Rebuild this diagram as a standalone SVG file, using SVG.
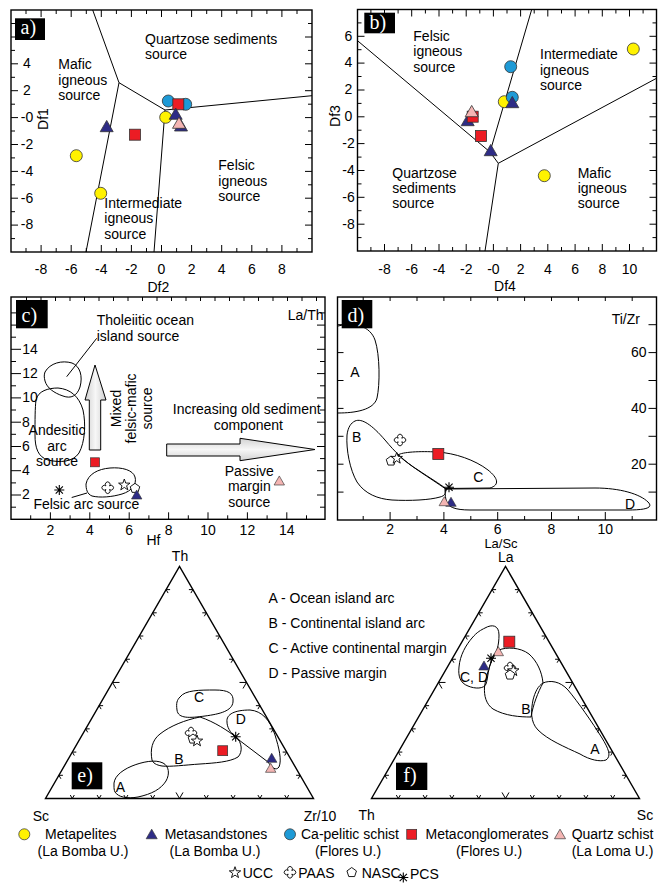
<svg xmlns="http://www.w3.org/2000/svg" width="670" height="886" viewBox="0 0 670 886">
<style>
text{font-family:"Liberation Sans",Arial,Helvetica,sans-serif;font-size:14px;fill:#000}
.s12{font-size:12px}
.s13{font-size:13px}
.m{text-anchor:middle}
.e{text-anchor:end}
.lb{font-family:"Liberation Serif","Times New Roman",serif;font-size:20px;fill:#fff}
.fr{fill:none;stroke:#000;stroke-width:1.4}
.tk{fill:none;stroke:#000;stroke-width:1}
.ln{fill:none;stroke:#000;stroke-width:1}
.y{fill:#fff200;stroke:#333;stroke-width:.8}
.b{fill:#1e9ad6;stroke:#333;stroke-width:.8}
.n{fill:#2e2c86;stroke:#333;stroke-width:.8}
.r{fill:#ec1c24;stroke:#333;stroke-width:.8}
.p{fill:#f4b5b3;stroke:#333;stroke-width:.8}
.o{fill:#fff;stroke:#000;stroke-width:.9}
.a{fill:none;stroke:#000;stroke-width:1.1}
.bx{fill:#000}
</style>
<defs>
<circle id="ci" r="6"/>
<path id="tr" d="M0,-6.3 L6.5,5 L-6.5,5 Z"/>
<rect id="sq" x="-5.5" y="-5.5" width="11" height="11"/>
<path id="st" d="M0,-6 L1.41,-1.94 L5.71,-1.85 L2.28,0.74 L3.53,4.85 L0,2.4 L-3.53,4.85 L-2.28,0.74 L-5.71,-1.85 L-1.41,-1.94 Z"/>
<path id="px" d="M-1.8,-1.8 A2.4,2.4 0 1 1 1.8,-1.8 A2.4,2.4 0 1 1 1.8,1.8 A2.4,2.4 0 1 1 -1.8,1.8 A2.4,2.4 0 1 1 -1.8,-1.8 Z"/>
<path id="pn" d="M0,-5 L4.76,-1.55 L2.94,4.05 L-2.94,4.05 L-4.76,-1.55 Z"/>
<path id="as" d="M-5,0 H5 M0,-5 V5 M-3.6,-3.6 L3.6,3.6 M-3.6,3.6 L3.6,-3.6"/>
<linearGradient id="gv" x1="0" y1="0" x2="1" y2="0">
<stop offset="0" stop-color="#cfcfcf"/><stop offset=".5" stop-color="#f7f7f7"/><stop offset="1" stop-color="#cfcfcf"/>
</linearGradient>
<linearGradient id="gh" x1="0" y1="0" x2="0" y2="1">
<stop offset="0" stop-color="#d2d2d2"/><stop offset=".5" stop-color="#f7f7f7"/><stop offset="1" stop-color="#d2d2d2"/>
</linearGradient>
<g id="tt">
<path class="fr" d="M0,0 H268 L134,-232.1 Z"/>
<path class="tk" d="M24.8,-3.46 l2,3.46 2,-3.46 M51.6,-3.46 l2,3.46 2,-3.46 M78.4,-3.46 l2,3.46 2,-3.46 M105.2,-3.46 l2,3.46 2,-3.46 M130.5,-6.06 l3.5,6.06 3.5,-6.06 M158.8,-3.46 l2,3.46 2,-3.46 M185.6,-3.46 l2,3.46 2,-3.46 M212.4,-3.46 l2,3.46 2,-3.46 M239.2,-3.46 l2,3.46 2,-3.46
M17.4,-23.21 h-4 l2,3.46 M30.8,-46.42 h-4 l2,3.46 M44.2,-69.63 h-4 l2,3.46 M57.6,-92.84 h-4 l2,3.46 M74,-116.05 h-7 l3.5,6.06 M84.4,-139.26 h-4 l2,3.46 M97.8,-162.47 h-4 l2,3.46 M111.2,-185.68 h-4 l2,3.46 M124.6,-208.89 h-4 l2,3.46
M250.6,-23.21 h4 l-2,3.46 M237.2,-46.42 h4 l-2,3.46 M223.8,-69.63 h4 l-2,3.46 M210.4,-92.84 h4 l-2,3.46 M194,-116.05 h7 l-3.5,6.06 M183.6,-139.26 h4 l-2,3.46 M170.2,-162.47 h4 l-2,3.46 M156.8,-185.68 h4 l-2,3.46 M143.4,-208.89 h4 l-2,3.46"/>
</g>
</defs>
<rect width="670" height="886" fill="#fff"/>

<!-- Panel a -->
<g id="panel-a">
<rect class="fr" x="11" y="10" width="301" height="242"/>
<path class="tk" d="M41.1,252v-7M71.2,252v-7M101.3,252v-7M131.4,252v-7M161.5,252v-7M191.6,252v-7M221.7,252v-7M251.8,252v-7M281.9,252v-7
M26,252v-4M56.2,252v-4M86.3,252v-4M116.4,252v-4M146.5,252v-4M176.6,252v-4M206.7,252v-4M236.8,252v-4M266.9,252v-4M297,252v-4
M41.1,10v7M71.2,10v7M101.3,10v7M131.4,10v7M161.5,10v7M191.6,10v7M221.7,10v7M251.8,10v7M281.9,10v7
M26,10v4M56.2,10v4M86.3,10v4M116.4,10v4M146.5,10v4M176.6,10v4M206.7,10v4M236.8,10v4M266.9,10v4M297,10v4
M11,37h7M11,63.8h7M11,90.7h7M11,117.6h7M11,144.5h7M11,171.4h7M11,198.2h7M11,225.1h7
M11,23.5h4M11,50.4h4M11,77.3h4M11,104.2h4M11,131h4M11,157.9h4M11,184.8h4M11,211.7h4M11,238.6h4
M312,37h-7M312,63.8h-7M312,90.7h-7M312,117.6h-7M312,144.5h-7M312,171.4h-7M312,198.2h-7M312,225.1h-7
M312,23.5h-4M312,50.4h-4M312,77.3h-4M312,104.2h-4M312,131h-4M312,157.9h-4M312,184.8h-4M312,211.7h-4M312,238.6h-4"/>
<g class="s12 m">
<text x="27" y="68.1">4</text><text x="27" y="95">2</text><text x="27" y="121.9">-0</text><text x="27" y="148.8">-2</text><text x="27" y="175.7">-4</text><text x="27" y="202.5">-6</text><text x="27" y="229.4">-8</text>
<text x="41.1" y="274.3">-8</text><text x="71.2" y="274.3">-6</text><text x="101.3" y="274.3">-4</text><text x="131.4" y="274.3">-2</text><text x="161.5" y="274.3">0</text><text x="191.6" y="274.3">2</text><text x="221.7" y="274.3">4</text><text x="251.8" y="274.3">6</text><text x="281.9" y="274.3">8</text>
<text x="158.3" y="291.5">Df2</text>
<text transform="translate(48,119) rotate(-90)">Df1</text>
</g>
<g class="ln-group">
<path class="ln" d="M92.7,10 L119,82.7 L86,252 M119,82.7 L165,110 L154,252 M165,110 L312,95.7"/>
</g>
<text x="145" y="43.5">Quartzose sediments</text><text x="145" y="58.5">source</text>
<text x="58.3" y="69">Mafic</text><text x="58.3" y="84.5">igneous</text><text x="58.3" y="100">source</text>
<text x="218.3" y="170">Felsic</text><text x="218.3" y="185.5">igneous</text><text x="218.3" y="201">source</text>
<text x="104.3" y="207.5">Intermediate</text><text x="104.3" y="223">igneous</text><text x="104.3" y="238.5">source</text>
<use href="#ci" class="y" x="76.3" y="155.7"/><use href="#ci" class="y" x="100.7" y="193.3"/><use href="#ci" class="y" x="165.7" y="117.3"/>
<use href="#ci" class="b" x="168.3" y="101"/><use href="#ci" class="b" x="185.7" y="104.3"/>
<use href="#sq" class="r" x="135" y="134.7"/><use href="#sq" class="r" x="178.3" y="104.3"/>
<use href="#tr" class="n" x="106.7" y="126.7"/><use href="#tr" class="n" x="175.7" y="114.3"/><use href="#tr" class="n" x="181" y="126"/>
<use href="#tr" class="p" x="179" y="123.3"/>
<rect class="bx" x="15" y="18.3" width="30" height="21.7"/><text class="lb" x="20.5" y="33.5">a)</text>
</g>

<!-- Panel b -->
<g id="panel-b">
<rect class="fr" x="357.5" y="9.5" width="299" height="241.5"/>
<path class="tk" d="M384.5,251v-7M411.7,251v-7M439,251v-7M466.2,251v-7M493.4,251v-7M520.6,251v-7M547.8,251v-7M575.1,251v-7M602.3,251v-7M629.5,251v-7
M370.9,251v-4M398.1,251v-4M425.4,251v-4M452.6,251v-4M479.8,251v-4M507,251v-4M534.2,251v-4M561.5,251v-4M588.7,251v-4M615.9,251v-4M643.1,251v-4
M384.5,9.5v7M411.7,9.5v7M439,9.5v7M466.2,9.5v7M493.4,9.5v7M520.6,9.5v7M547.8,9.5v7M575.1,9.5v7M602.3,9.5v7M629.5,9.5v7
M370.9,9.5v4M398.1,9.5v4M425.4,9.5v4M452.6,9.5v4M479.8,9.5v4M507,9.5v4M534.2,9.5v4M561.5,9.5v4M588.7,9.5v4M615.9,9.5v4M643.1,9.5v4
M357.5,36.3h7M357.5,63.1h7M357.5,90h7M357.5,116.8h7M357.5,143.6h7M357.5,170.5h7M357.5,197.3h7M357.5,224.2h7
M357.5,22.9h4M357.5,49.7h4M357.5,76.5h4M357.5,103.4h4M357.5,130.2h4M357.5,157.1h4M357.5,183.9h4M357.5,210.7h4M357.5,237.6h4
M656.5,36.3h-7M656.5,63.1h-7M656.5,90h-7M656.5,116.8h-7M656.5,143.6h-7M656.5,170.5h-7M656.5,197.3h-7M656.5,224.2h-7
M656.5,22.9h-4M656.5,49.7h-4M656.5,76.5h-4M656.5,103.4h-4M656.5,130.2h-4M656.5,157.1h-4M656.5,183.9h-4M656.5,210.7h-4M656.5,237.6h-4"/>
<g class="s12 m">
<text x="348.5" y="40.6">6</text><text x="348.5" y="67.4">4</text><text x="348.5" y="94.3">2</text><text x="348.5" y="121.1">0</text><text x="348.5" y="147.9">-2</text><text x="348.5" y="174.8">-4</text><text x="348.5" y="201.6">-6</text><text x="348.5" y="228.5">-8</text>
<text x="384.5" y="274">-8</text><text x="411.7" y="274">-6</text><text x="439" y="274">-4</text><text x="466.2" y="274">-2</text><text x="493.4" y="274">-0</text><text x="520.6" y="274">2</text><text x="547.8" y="274">4</text><text x="575.1" y="274">6</text><text x="602.3" y="274">8</text><text x="629.5" y="274">10</text>
<text x="505" y="290.5">Df4</text>
<text transform="translate(339.5,116) rotate(-90)">Df3</text>
</g>
<path class="ln" d="M357.5,40.7 L490,152 L531.7,9.5 M490,152 L498.3,163.3 L485,251 M498.3,163.3 L656.5,78.3"/>
<text x="413.3" y="40.7">Felsic</text><text x="413.3" y="56">igneous</text><text x="413.3" y="71.5">source</text>
<text x="540" y="59">Intermediate</text><text x="540" y="74.5">igneous</text><text x="540" y="90">source</text>
<text x="392.3" y="177.7">Quartzose</text><text x="392.3" y="193">sediments</text><text x="392.3" y="208.3">source</text>
<text x="577.7" y="177.7">Mafic</text><text x="577.7" y="193">igneous</text><text x="577.7" y="208.3">source</text>
<use href="#ci" class="y" x="633.3" y="49"/><use href="#ci" class="y" x="544.3" y="175.7"/><use href="#ci" class="y" x="504.3" y="101.7"/>
<use href="#ci" class="b" x="510.7" y="66.7"/><use href="#ci" class="b" x="512.3" y="97.3"/>
<use href="#tr" class="n" x="512.3" y="102.7"/><use href="#tr" class="n" x="467.7" y="120.7"/><use href="#tr" class="n" x="490.7" y="150.7"/>
<use href="#sq" class="r" x="472.7" y="116.7"/><use href="#sq" class="r" x="481" y="136"/>
<use href="#tr" class="p" x="471.7" y="111.7"/>
<rect class="bx" x="364.3" y="12.7" width="30.7" height="20.6"/><text class="lb" x="369.5" y="29">b)</text>
</g>

<!-- Panel c -->
<g id="panel-c">
<rect class="fr" x="11" y="297" width="314" height="222.3"/>
<path class="tk" d="M30.7,519.3v-4M70.1,519.3v-4M109.5,519.3v-4M148.9,519.3v-4M188.3,519.3v-4M227.7,519.3v-4M267.1,519.3v-4M306.5,519.3v-4
M50.4,519.3v-7M89.8,519.3v-7M129.2,519.3v-7M168.6,519.3v-7M208,519.3v-7M247.4,519.3v-7M286.8,519.3v-7
M26.5,297v4M41,297v4M55.5,297v4M70,297v4M84.5,297v4M99,297v4M113.5,297v4M128,297v4M142.5,297v4M157,297v4M171.5,297v4M186,297v4M200.5,297v4M215,297v4M229.5,297v4M244,297v4M258.5,297v4M273,297v4M287.5,297v4M302,297v4M316.5,297v4
M11,495h10M11,470.7h10M11,446.5h10M11,422.2h10M11,397.9h10M11,373.6h10M11,349.3h10M11,325.1h10
M11,507.2h5M11,482.9h5M11,458.6h5M11,434.3h5M11,410h5M11,385.8h5M11,361.5h5M11,337.2h5M11,312.9h5
M325,495h-8M325,470.7h-8M325,446.5h-8M325,422.2h-8M325,397.9h-8M325,373.6h-8M325,349.3h-8M325,325.1h-8
M325,507.2h-5M325,482.9h-5M325,458.6h-5M325,434.3h-5M325,410h-5M325,385.8h-5M325,361.5h-5M325,337.2h-5M325,312.9h-5"/>
<g class="s12 m">
<text x="30" y="353.6">14</text><text x="30" y="377.9">12</text><text x="30" y="402.2">10</text><text x="26" y="426.5">8</text><text x="26" y="450.8">6</text><text x="26" y="475">4</text><text x="26" y="499.3">2</text>
<text x="50.4" y="535.3">2</text><text x="89.8" y="535.3">4</text><text x="129.2" y="535.3">6</text><text x="168.6" y="535.3">8</text><text x="208" y="535.3">10</text><text x="247.4" y="535.3">12</text><text x="286.8" y="535.3">14</text>
</g>
<text class="m" x="153.5" y="545">Hf</text>
<text class="m" x="305.7" y="320">La/Th</text>
<path class="ln" d="M45,372 C50,363 62,360 72,363 C80,366 83,376 80,387 C77,396 71,399 63,396 C54,393 47,388 45,381 C44,377 44,375 45,372 Z"/>
<path class="ln" d="M36,400 C38,391 48,388 58,388 C70,389 79,396 83,410 C86,424 85,442 79,453 C73,462 60,463 48,460 C38,457 35,448 35,435 C35,420 35,408 36,400 Z"/>
<path class="ln" d="M86,484 C88,474 98,469 110,468 C122,467 133,470 135,477 C137,484 132,491 122,494 C112,497 100,498 92,496 C87,494 86,489 86,484 Z"/>
<path class="ln" d="M96.7,338.3 L66.7,376.7 M71.7,497.5 L87,493"/>
<path d="M89.3,450 V400 H85 L95,365 L106,400 H100.7 V450 Z" fill="url(#gv)" stroke="#000" stroke-width="1"/>
<path d="M166.7,444 H240 V438.3 L315,449.5 L240,460.7 V456 H166.7 Z" fill="url(#gh)" stroke="#000" stroke-width="1"/>
<text x="96.7" y="325">Tholeiitic ocean</text><text x="96.7" y="340.5">island source</text>
<text class="m" x="57" y="435">Andesitic</text><text class="m" x="57" y="450.5">arc</text><text class="m" x="57" y="466">source</text>
<text class="m" transform="translate(120.5,408.5) rotate(-90)">Mixed</text>
<text class="m" transform="translate(136,408.5) rotate(-90)">felsic-mafic</text>
<text class="m" transform="translate(151.5,408.5) rotate(-90)">source</text>
<text class="m" x="246.7" y="414">Increasing old sediment</text><text class="m" x="248.3" y="429.5">component</text>
<text class="m" x="249.3" y="475.5">Passive</text><text class="m" x="249.3" y="491">margin</text><text class="m" x="249.3" y="506.5">source</text>
<text class="m" x="86.3" y="509">Felsic arc source</text>
<use href="#as" class="a" x="59.3" y="490"/>
<use href="#px" class="o" x="107.7" y="487.7"/>
<use href="#st" class="o" x="124.3" y="485"/>
<use href="#pn" class="o" x="135" y="488.3"/>
<use href="#tr" class="n" transform="translate(136.7,495) scale(.8)"/>
<use href="#sq" class="r" transform="translate(95,462.3) scale(.82)"/>
<use href="#tr" class="p" transform="translate(279.3,481) scale(.8)"/>
<rect class="bx" x="16" y="300" width="31.7" height="28.3"/><text class="lb" x="21.5" y="321.5">c)</text>
</g>

<!-- Panel d -->
<g id="panel-d">
<rect class="fr" x="337.5" y="297" width="319" height="223"/>
<path class="tk" d="M390.1,520v-8M443.9,520v-8M497.7,520v-8M551.5,520v-8M605.3,520v-8
M363.2,520v-4M417,520v-4M470.8,520v-4M524.6,520v-4M578.4,520v-4M632.2,520v-4
M363.2,297v4M390.1,297v4M417,297v4M443.9,297v4M470.8,297v4M497.7,297v4M524.6,297v4M551.5,297v4M578.4,297v4M605.3,297v4M632.2,297v4
M337.5,492.1h6M337.5,464.2h6M337.5,436.3h6M337.5,408.4h6M337.5,380.5h6M337.5,352.6h6M337.5,324.7h6
M656.5,492.1h-8M656.5,464.2h-8M656.5,436.3h-8M656.5,408.4h-8M656.5,380.5h-8M656.5,352.6h-8M656.5,324.7h-8"/>
<g class="s12">
<text class="e" x="646.5" y="357">60</text><text class="e" x="646.5" y="412.8">40</text><text class="e" x="646.5" y="468.6">20</text>
<text class="m" x="390.1" y="534">2</text><text class="m" x="443.9" y="534">4</text><text class="m" x="497.7" y="534">6</text><text class="m" x="551.5" y="534">8</text><text class="m" x="605.3" y="534">10</text>
</g>
<text class="m s13" x="501" y="547.5">La/Sc</text>
<text class="m" x="625.8" y="324">Ti/Zr</text>
<path class="ln" d="M338,326 C355,322 370,326 375,340 C380,355 380,385 377,398 C374,410 355,413 338,413"/>
<path class="ln" d="M355,421 C362,418 372,425 385,440 C395,452 405,462 418,470 C430,478 440,484 445,488 C447,492 445,496 440,497 C430,500 410,501 392,500 C378,499 365,494 357,482 C350,470 346,450 347,435 C348,427 351,423 355,421 Z"/>
<path class="ln" d="M398,455 C402,452 420,451 437,452 C455,453 475,460 488,470 C498,478 500,485 490,488 L445,488.5 C430,478 410,466 398,455 Z"/>
<path class="ln" d="M445,489 L595,488 C620,488 640,494 648,502 C654,508 645,510 628,510 L470,510 C455,510 447,507 446,500 C445,495 445,491 445,489 Z"/>
<text class="m" x="355" y="377">A</text><text class="m" x="356.7" y="441.5">B</text><text class="m" x="478.3" y="481.5">C</text><text class="m" x="630" y="509">D</text>
<use href="#px" class="o" x="400" y="440"/>
<use href="#pn" class="o" x="391" y="461"/>
<use href="#st" class="o" x="396.7" y="458.3"/>
<use href="#as" class="a" x="449" y="487.3"/>
<use href="#sq" class="r" x="438.3" y="454"/>
<use href="#tr" class="n" transform="translate(451,502.3) scale(.8)"/>
<use href="#tr" class="p" transform="translate(444.3,501.7) scale(.8)"/>
<rect class="bx" x="341.7" y="300" width="30.6" height="28.3"/><text class="lb" x="347.5" y="322">d)</text>
</g>

<!-- Panel e -->
<g id="panel-e">
<use href="#tt" transform="translate(45.5,798.5)"/>
<text class="m" x="180" y="560.5">Th</text>
<text class="m" x="40.8" y="821">Sc</text>
<text class="m" x="320" y="821">Zr/10</text>
<path class="ln" d="M180,697 C185,690 200,690 215,690 C228,690 234,693 233,702 C232,711 220,714 205,716 C190,718 178,719 177,710 C176,703 177,700 180,697 Z"/>
<path class="ln" d="M152,760 C150,750 152,740 160,734 C170,726 185,720 200,717 C215,722 228,731 236,737 C242,742 243,752 238,757 C230,762 215,763 200,764 C185,765 170,767 162,766 C156,765 153,763 152,760 Z"/>
<path class="ln" d="M227,722 C226,714 235,710 250,710 C262,711 270,720 275,735 C279,748 282,760 279,767 C276,771 272,768 268,762 L235,737 C230,732 227,727 227,722 Z"/>
<path class="ln" d="M114,786 C113,778 120,771 132,766 C142,762 155,759 163,763 C169,766 170,774 166,781 C161,789 152,794 138,797 C127,799 118,797 115,792 C114,790 114,788 114,786 Z"/>
<text class="m" x="199" y="702">C</text><text class="m" x="240.7" y="724">D</text><text class="m" x="179" y="764">B</text><text class="m" x="120.5" y="791.5">A</text>
<use href="#px" class="o" x="191" y="733"/>
<use href="#pn" class="o" x="193" y="739"/>
<use href="#st" class="o" x="197" y="741"/>
<use href="#sq" class="r" transform="translate(222.7,750.7) scale(.9)"/>
<use href="#as" class="a" x="235.7" y="736.7"/>
<use href="#tr" class="n" transform="translate(271.7,758.3) scale(.8)"/>
<use href="#tr" class="p" transform="translate(270.7,768.3) scale(.8)"/>
<rect class="bx" x="71.7" y="762.3" width="30.6" height="27"/><text class="lb" x="77.3" y="781.5">e)</text>
</g>

<!-- Field legend -->
<g id="field-legend">
<text x="268.5" y="603">A - Ocean island arc</text>
<text x="268.5" y="628">B - Continental island arc</text>
<text x="268.5" y="653">C - Active continental margin</text>
<text x="268.5" y="677.5">D - Passive margin</text>
</g>

<!-- Panel f -->
<g id="panel-f">
<use href="#tt" transform="translate(371.5,798.5)"/>
<text class="m" x="505.7" y="562">La</text>
<text class="m" x="366.7" y="820">Th</text>
<text class="m" x="645" y="820">Sc</text>
<path class="ln" d="M485,628 C492,624 499,625 499,635 C499,645 497,652 492,660 C488,668 488,678 486,684 C484,689 475,689 468,686 C460,683 458,676 459,667 C460,655 466,645 472,638 C477,632 481,630 485,628 Z"/>
<path class="ln" d="M499,650 C506,647 520,647 529,654 C537,661 542,672 543,683 C538,692 533,705 531,717 C520,717 505,716 493,709 C486,704 484,696 484.5,687 C486,676 490,665 493,657 C495,652 497,651 499,650 Z"/>
<path class="ln" d="M543,683 C550,680 560,681 568,690 C578,702 592,722 602,738 C608,748 612,756 606,760 C600,762 590,760 580,754 C565,747 548,740 538,730 C530,722 531,710 533,700 C535,692 538,686 543,683 Z"/>
<text class="m" x="474" y="681.5">C, D</text><text class="m" x="526" y="714">B</text><text class="m" x="595" y="754">A</text>
<use href="#sq" class="r" x="509.3" y="641.7"/>
<use href="#tr" class="p" transform="translate(498.3,651.7) scale(.8)"/>
<use href="#as" class="a" x="491" y="658.3"/>
<use href="#tr" class="n" transform="translate(484,666) scale(.8)"/>
<use href="#px" class="o" x="510" y="668"/>
<use href="#st" class="o" x="513.3" y="670.7"/>
<use href="#pn" class="o" x="510" y="675"/>
<rect class="bx" x="396" y="762.7" width="31.3" height="27.3"/><text class="lb" x="403.3" y="781.7">f)</text>
</g>

<!-- Symbol legend -->
<g id="legend">
<use href="#ci" class="y" transform="translate(24.3,834.3) scale(.92)"/>
<text class="m" x="80.8" y="839">Metapelites</text><text class="m" x="83" y="856">(La Bomba U.)</text>
<use href="#tr" class="n" transform="translate(151.7,834.5) scale(.85)"/>
<text class="m" x="216" y="839">Metasandstones</text><text class="m" x="215" y="856">(La Bomba U.)</text>
<use href="#ci" class="b" transform="translate(290,834.3) scale(.92)"/>
<text class="m" x="350" y="839">Ca-pelitic schist</text><text class="m" x="348" y="856">(Flores U.)</text>
<use href="#sq" class="r" transform="translate(411.7,834.3) scale(.9)"/>
<text class="m" x="487" y="839">Metaconglomerates</text><text class="m" x="489" y="856">(Flores U.)</text>
<use href="#tr" class="p" transform="translate(560,834.5) scale(.85)"/>
<text class="m" x="612.5" y="839">Quartz schist</text><text class="m" x="612.5" y="856">(La Loma U.)</text>
<use href="#st" class="o" x="235" y="872.7"/><text x="242.7" y="877.5">UCC</text>
<use href="#px" class="o" x="290" y="872.3"/><text x="298.3" y="877.5">PAAS</text>
<use href="#pn" class="o" x="351.7" y="872.5"/><text x="361.7" y="877.5">NASC</text>
<use href="#as" class="a" x="403.3" y="877.5"/><text x="410" y="879">PCS</text>
</g>
</svg>
